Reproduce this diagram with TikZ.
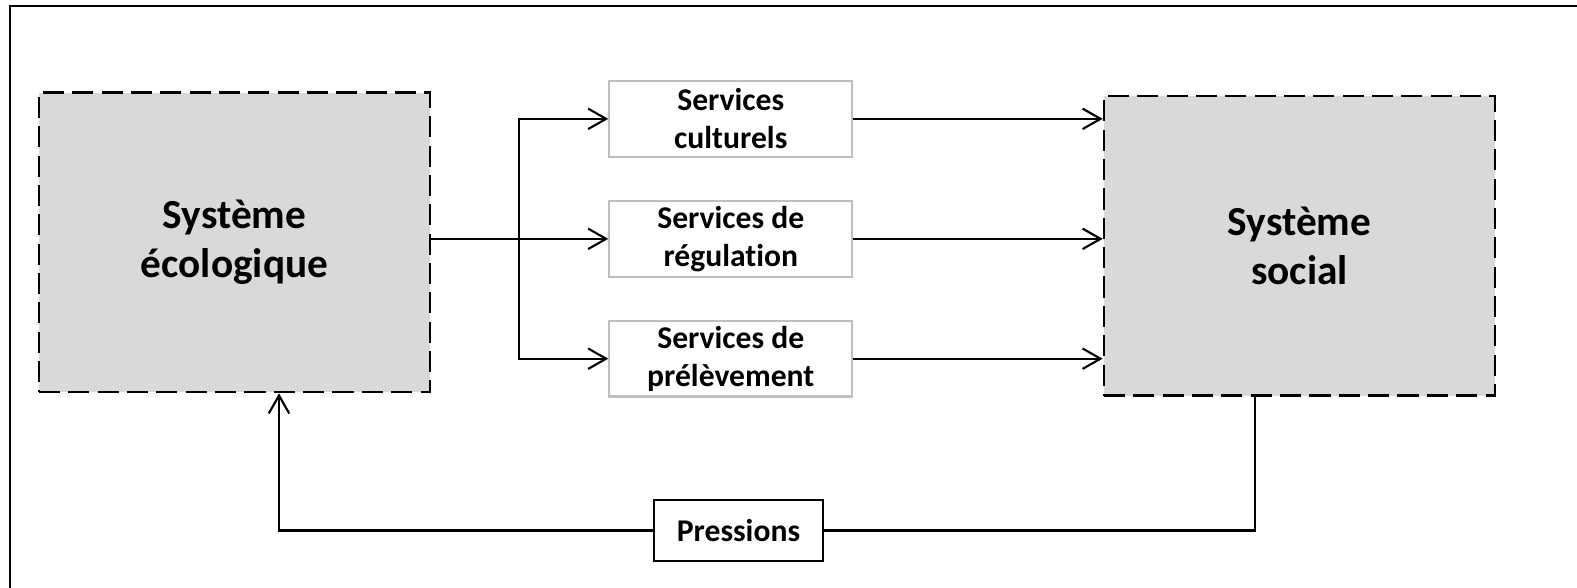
\documentclass[tikz,border=0pt]{standalone}
\usepackage{fontspec}
\setmainfont{Carlito}[Ligatures=NoCommon]
\usetikzlibrary{arrows.meta}
\definecolor{boxgray}{HTML}{D9D9D9}
\definecolor{edgegray}{HTML}{BFBFBF}

\tikzset{
    box/.style={draw, align=center, inner sep=0pt, line width=1.2pt,
        font=\fontsize{18}{21.6}\selectfont\bfseries},
    system/.style={box, line width=1.5pt, dash pattern=on 12pt off 4.7pt,
        fill=boxgray, minimum width=7.82cm, minimum height=5.99cm,
        font=\fontsize{23.5}{28}\selectfont\bfseries},
    service/.style={box, draw=edgegray, minimum width=4.86cm, minimum height=1.51cm},
    pressure/.style={box, minimum width=3.37cm, minimum height=1.22cm},
    link/.style={-{Straight Barb[length=3.6mm, width=4.1mm]}, line width=1.2pt},
    plain/.style={line width=1.2pt}
}

\begin{document}
\begin{tikzpicture}
    \useasboundingbox (0,0) rectangle (31.54,-11.76);
    \draw[line width=1.3pt] (0.2,-11.76) -- (0.2,-0.114) -- (31.54,-0.114);

    \node[system] (eco) at (4.69,-4.846) {Système\\écologique};
    \node[system] (soc) at (25.99,-4.916) {Système\\social};
    \node[service] (cult) at (14.616,-2.377) {Services\\culturels};
    \node[service] (reg) at (14.616,-4.777) {Services de\\régulation};
    \node[service] (prel) at (14.616,-7.174) {Services de\\prélèvement};
    \node[pressure] (press) at (14.77,-10.61) {Pressions};
    \coordinate (split) at (10.386,-4.777);

    \draw[link] (eco.east |- reg.west) -- (reg.west);
    \draw[link] (split) |- (cult.west);
    \draw[link] (split) |- (prel.west);
    \draw[link] (cult.east) -- (soc.west |- cult.east);
    \draw[link] (reg.east) -- (soc.west |- reg.east);
    \draw[link] (prel.east) -- (soc.west |- prel.east);
    \draw[plain] ([xshift=-0.89cm]soc.south) |- (press.east);
    \draw[link] (press.west) -| ([xshift=0.89cm]eco.south);
\end{tikzpicture}
\end{document}
